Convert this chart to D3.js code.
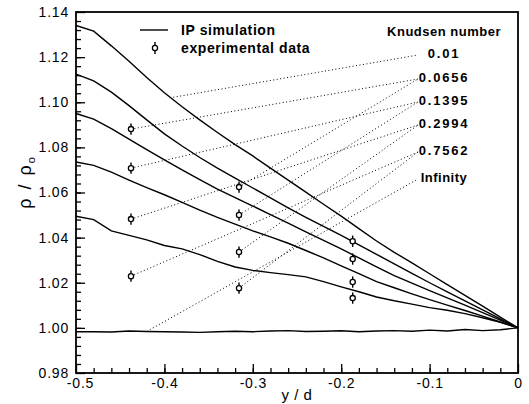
<!DOCTYPE html>
<html>
<head>
<meta charset="utf-8">
<script src="https://cdn.jsdelivr.net/npm/d3@7"></script>
<style>
  body { margin: 0; background: #fff; }
  text { font-family: "Liberation Sans", Arial, sans-serif; fill: #000; }
</style>
</head>
<body>
<div id="chart"></div>
<script>
// positions along the channel (y/d)
const xs = [-0.5, -0.48, -0.46, -0.44, -0.42, -0.40, -0.38, -0.36, -0.34, -0.32, -0.30, -0.28, -0.26,
            -0.24, -0.22, -0.20, -0.18, -0.16, -0.14, -0.12, -0.10, -0.08, -0.06, -0.04, -0.02, 0];

// IP simulation, one series per Knudsen number
const knudsen = ["0.01", "0.0656", "0.1395", "0.2994", "0.7562", "Infinity"];
const sim001 = [1.1340, 1.1315, 1.1250, 1.1182, 1.1110, 1.1042, 1.0980, 1.0922, 1.0866, 1.0812, 1.0762, 1.0708, 1.0655,
                1.0602, 1.0548, 1.0495, 1.0440, 1.0385, 1.0335, 1.0288, 1.0240, 1.0192, 1.0144, 1.0096, 1.0048, 1.0000];
const sim0656 = [1.1125, 1.1095, 1.1045, 1.0985, 1.0922, 1.0860, 1.0806, 1.0755, 1.0708, 1.0664, 1.0620, 1.0576, 1.0532,
                 1.0490, 1.0450, 1.0410, 1.0368, 1.0326, 1.0284, 1.0242, 1.0200, 1.0160, 1.0120, 1.0080, 1.0040, 1.0000];
const sim1395 = [1.0950, 1.0925, 1.0883, 1.0837, 1.0790, 1.0745, 1.0700, 1.0657, 1.0615, 1.0577, 1.0540, 1.0502, 1.0464,
                 1.0426, 1.0388, 1.0350, 1.0310, 1.0270, 1.0232, 1.0198, 1.0165, 1.0133, 1.0101, 1.0068, 1.0034, 1.0000];
const sim2994 = [1.0735, 1.0720, 1.0690, 1.0655, 1.0622, 1.0590, 1.0556, 1.0522, 1.0490, 1.0460, 1.0430, 1.0403, 1.0375,
                 1.0343, 1.0310, 1.0275, 1.0240, 1.0205, 1.0178, 1.0151, 1.0125, 1.0101, 1.0077, 1.0052, 1.0026, 1.0000];
const sim7562 = [1.0495, 1.0480, 1.0430, 1.0410, 1.0390, 1.0365, 1.0350, 1.0325, 1.0295, 1.0270, 1.0255, 1.0245, 1.0236,
                 1.0226, 1.0205, 1.0182, 1.0160, 1.0137, 1.0120, 1.0105, 1.0090, 1.0078, 1.0063, 1.0045, 1.0025, 1.0000];
const simInf = [0.9983, 0.9983, 0.9982, 0.9986, 0.9984, 0.9983, 0.9982, 0.9980, 0.9983, 0.9985, 0.9983, 0.9986, 0.9988,
                0.9984, 0.9985, 0.9987, 0.9983, 0.9986, 0.9988, 0.9985, 0.9990, 0.9986, 0.9993, 0.9988, 0.9992, 1.0000];
const simSeries = [sim001, sim0656, sim1395, sim2994, sim7562, simInf];

// experimental data (three stations), Knudsen 0.0656 .. 0.7562
const expX = [-0.4378, -0.3156, -0.187];
const exp0656 = [1.0881, 1.0624, 1.0384];
const exp1395 = [1.0708, 1.0500, 1.0305];
const exp2994 = [1.0482, 1.0336, 1.0203];
const exp7562 = [1.0229, 1.0176, 1.0132];
const expSeries = [null, exp0656, exp1395, exp2994, exp7562, null];
const expErr = 0.0025;

const yTicks = [0.98, 1.00, 1.02, 1.04, 1.06, 1.08, 1.10, 1.12, 1.14];
const xTicks = [-0.5, -0.4, -0.3, -0.2, -0.1, 0];

function draw() {
  const width = 529, height = 404;
  const left = 76, right = 518, top = 12, bottom = 373;

  const svg = d3.select("#chart").append("svg")
      .attr("width", width)
      .attr("height", height);

  const x = d3.scaleLinear().domain([-0.5, 0]).range([left, right]);
  const y = d3.scaleLinear().domain([0.98, 1.14]).range([bottom, top]);

  // minor ticks
  svg.append("g")
      .attr("transform", `translate(${left},0)`)
      .call(d3.axisLeft(y).tickValues(d3.range(0.984, 1.14, 0.004)).tickSize(-5).tickFormat(""))
      .call(g => g.select(".domain").remove());
  svg.append("g")
      .attr("transform", `translate(0,${bottom})`)
      .call(d3.axisBottom(x).tickValues(d3.range(-0.48, 0, 0.02)).tickSize(-5).tickFormat(""))
      .call(g => g.select(".domain").remove());

  // major ticks + labels
  svg.append("g")
      .attr("transform", `translate(${left},0)`)
      .call(d3.axisLeft(y).tickValues(yTicks).tickSize(-9).tickPadding(7).tickFormat(d3.format(".2f")))
      .call(g => g.select(".domain").remove())
      .selectAll("text").style("font-size", "14px").style("letter-spacing", "0.8px");
  svg.append("g")
      .attr("transform", `translate(0,${bottom})`)
      .call(d3.axisBottom(x).tickValues(xTicks).tickSize(-9).tickPadding(5)
        .tickFormat(d => d === 0 ? "0" : d.toFixed(1)))
      .call(g => g.select(".domain").remove())
      .selectAll("text")
        .attr("dx", d => d === -0.5 ? 4 : 0)
        .style("font-size", "14px").style("letter-spacing", "0.8px");

  svg.selectAll(".tick line").attr("stroke", "#000").attr("stroke-width", 1.3);

  // frame
  svg.append("rect")
      .attr("x", left).attr("y", top)
      .attr("width", right - left).attr("height", bottom - top)
      .attr("fill", "none").attr("stroke", "#000").attr("stroke-width", 1.8);

  // leader lines from labels to the data
  const labelX = 444;
  const labelY = [58, 82, 105, 128, 155, 182];
  const leaders = [[x(-0.39), y(1.1022), 0]];
  expSeries.forEach((s, i) => {
    if (!s) return;
    leaders.push([x(expX[0]), y(s[0]), i]);
    leaders.push([x(expX[1]), y(s[1]), i]);
  });
  leaders.push([x(-0.42), y(simInf[4]), 5]);

  svg.selectAll(".leader")
    .data(leaders)
    .enter()
    .append("line")
    .attr("class", "leader")
    .attr("x1", d => d[0]).attr("y1", d => d[1])
    .attr("x2", 418).attr("y2", d => labelY[d[2]] - 3)
    .attr("stroke", "#000")
    .attr("stroke-width", 1)
    .attr("stroke-dasharray", "1,2.5");

  // simulation curves
  const line = d3.line().x((d, i) => x(xs[i])).y(d => y(d));
  svg.selectAll(".sim")
    .data(simSeries)
    .enter()
    .append("path")
    .attr("class", "sim")
    .attr("d", line)
    .attr("fill", "none")
    .attr("stroke", "#000")
    .attr("stroke-width", 1.4);

  // experimental points with error bars
  const pts = [];
  expSeries.forEach(s => { if (s) s.forEach((v, j) => pts.push([expX[j], v])); });
  const marks = svg.selectAll(".pt").data(pts).enter().append("g").attr("class", "pt");
  marks.append("line")
    .attr("x1", d => x(d[0])).attr("x2", d => x(d[0]))
    .attr("y1", d => y(d[1] - expErr)).attr("y2", d => y(d[1] + expErr))
    .attr("stroke", "#000").attr("stroke-width", 1.4);
  marks.append("circle")
    .attr("cx", d => x(d[0])).attr("cy", d => y(d[1]))
    .attr("r", 2.6)
    .attr("fill", "#fff").attr("stroke", "#000").attr("stroke-width", 1.3);

  // Knudsen labels
  svg.append("text")
    .attr("x", 444).attr("y", 36)
    .attr("text-anchor", "middle")
    .style("font-size", "13px").style("font-weight", "bold").style("letter-spacing", "0.5px")
    .text("Knudsen number");
  svg.selectAll(".kn")
    .data(knudsen)
    .enter()
    .append("text")
    .attr("class", "kn")
    .attr("x", labelX).attr("y", (d, i) => labelY[i])
    .attr("text-anchor", "middle")
    .style("font-size", "13px").style("font-weight", "bold")
    .style("letter-spacing", d => d === "Infinity" ? "0.5px" : "1.8px")
    .text(d => d);

  // legend
  svg.append("line")
    .attr("x1", 140).attr("x2", 168).attr("y1", 30).attr("y2", 30)
    .attr("stroke", "#000").attr("stroke-width", 1.4);
  svg.append("line")
    .attr("x1", 155).attr("x2", 155).attr("y1", 42).attr("y2", 54)
    .attr("stroke", "#000").attr("stroke-width", 1.4);
  svg.append("circle")
    .attr("cx", 155).attr("cy", 48).attr("r", 2.6)
    .attr("fill", "#fff").attr("stroke", "#000").attr("stroke-width", 1.3);
  svg.append("text").attr("x", 181).attr("y", 35)
    .style("font-size", "14px").style("font-weight", "bold").style("letter-spacing", "0.6px")
    .text("IP simulation");
  svg.append("text").attr("x", 181).attr("y", 53)
    .style("font-size", "14px").style("font-weight", "bold").style("letter-spacing", "0.6px")
    .text("experimental data");

  // axis titles
  svg.append("text")
    .attr("x", 297).attr("y", 400)
    .attr("text-anchor", "middle")
    .style("font-size", "15px").style("letter-spacing", "0.5px")
    .text("y / d");
  const yt = svg.append("text")
    .attr("transform", "translate(31,182) rotate(-90)")
    .attr("text-anchor", "middle")
    .style("font-size", "18px").style("letter-spacing", "2px");
  yt.append("tspan").text("ρ / ρ");
  yt.append("tspan").attr("dy", 4).style("font-size", "11px").text("o");
}

draw();
</script>
</body>
</html>
